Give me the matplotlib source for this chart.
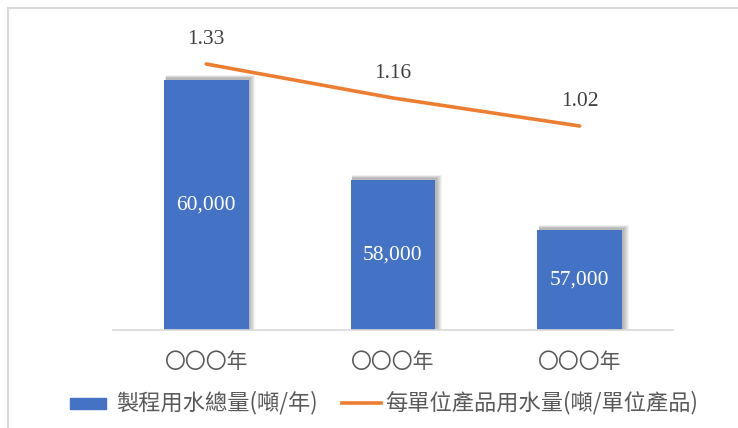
import matplotlib
matplotlib.use("Agg")
import matplotlib.pyplot as plt
from matplotlib.patches import Rectangle
from matplotlib.lines import Line2D

years = ["〇〇〇年", "〇〇〇年", "〇〇〇年"]
total_water = [60000, 58000, 57000]
unit_water = [1.33, 1.16, 1.02]

bar_name = "製程用水總量(噸/年)"
line_name = "每單位產品用水量(噸/單位產品)"

BAR_COLOR = "#4472C4"
LINE_COLOR = "#ED7D31"
TEXT_COLOR = "#595959"
CJK = ["Noto Sans CJK TC", "DejaVu Sans"]
SERIF = ["Liberation Serif", "DejaVu Serif"]

W, H = 738, 428
fig = plt.figure(figsize=(W / 100, H / 100), dpi=100)

# light grey frame around the chart (runs off right and bottom edges)
fig.add_artist(Rectangle((8 / W, -0.1), 1.2, 1.1 - 8 / H, transform=fig.transFigure,
                         fill=False, edgecolor="#D9D9D9", linewidth=1.5))

ax = fig.add_axes([113 / W, 1 - 330 / H, 560 / W, 300 / H])
x = list(range(len(years)))
bar_w = 0.455

# soft shadow behind the bars
for i in range(6):
    ax.bar([v + 0.008 + i * 0.003 for v in x], [v + 40 + i * 12 for v in total_water],
           width=bar_w + i * 0.005, bottom=0, color="black", alpha=0.05, zorder=1)

bars = ax.bar(x, total_water, width=bar_w, color=BAR_COLOR, zorder=2)
ax.set_ylim(55000, 61000)
ax.set_xlim(-0.5, len(years) - 0.5)

for b, v in zip(bars, total_water):
    ax.text(b.get_x() + b.get_width() / 2, (55000 + v) / 2, f"{v:,}",
            ha="center", va="center", color="white", fontsize=15.5, family=SERIF, zorder=3)

for s in ["top", "right", "left"]:
    ax.spines[s].set_visible(False)
ax.spines["bottom"].set_color("#D9D9D9")
ax.spines["bottom"].set_linewidth(1.2)
ax.spines["bottom"].set_zorder(5)
ax.set_yticks([])
ax.set_xticks(x)
ax.set_xticklabels(years, family=CJK, fontsize=15, color=TEXT_COLOR)
ax.tick_params(axis="x", length=0, pad=15)

ax2 = ax.twinx()
ax2.plot(x, unit_water, color=LINE_COLOR, linewidth=2.6, solid_capstyle="round", zorder=4)
ax2.set_ylim(0, 1.5)
ax2.set_yticks([])
for s in ["top", "right", "left", "bottom"]:
    ax2.spines[s].set_visible(False)
for xi, v in zip(x, unit_water):
    ax2.annotate(f"{v:.2f}", (xi, v), xytext=(0, 25), textcoords="offset pixels",
                 ha="center", va="center", fontsize=15.5, family=SERIF, color="#404040")

# legend drawn by hand
ly = 1 - 403 / H
fig.add_artist(Rectangle((70 / W, 1 - 409 / H), 36 / W, 11 / H, transform=fig.transFigure,
                         color=BAR_COLOR))
fig.text(116 / W, ly, bar_name, ha="left", va="center", family=CJK, fontsize=16,
         color=TEXT_COLOR)
fig.add_artist(Line2D([342 / W, 381 / W], [ly, ly], transform=fig.transFigure,
                      color=LINE_COLOR, linewidth=2.6))
fig.text(385 / W, ly, line_name, ha="left", va="center", family=CJK, fontsize=16,
         color=TEXT_COLOR)

fig.savefig("out.png", dpi=100)
